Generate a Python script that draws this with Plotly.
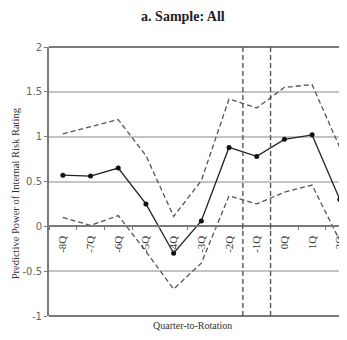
import plotly.graph_objects as go

categories = ["-8Q", "-7Q", "-6Q", "-5Q", "-4Q", "-3Q", "-2Q", "-1Q", "0Q", "1Q", "2Q"]
estimate = [0.57, 0.56, 0.65, 0.25, -0.30, 0.06, 0.88, 0.78, 0.97, 1.02, 0.30]
upper_ci = [1.03, 1.11, 1.19, 0.79, 0.11, 0.51, 1.42, 1.32, 1.55, 1.58, 0.88]
lower_ci = [0.10, 0.01, 0.12, -0.28, -0.70, -0.41, 0.34, 0.25, 0.38, 0.46, -0.16]
y_ticks = [-1, -0.5, 0, 0.5, 1, 1.5, 2]
y_ticktext = ["-1", "-0.5", "0", "0.5", "1", "1.5", "2"]
window_bounds = [6.5, 7.5]

fig = go.Figure()
for vals in (upper_ci, lower_ci):
    fig.add_trace(go.Scatter(x=categories, y=vals, mode="lines",
                             line=dict(color="#555555", width=1.3, dash="5px,3px"),
                             showlegend=False, hoverinfo="skip"))
fig.add_trace(go.Scatter(x=categories, y=estimate, mode="lines+markers",
                         line=dict(color="#222222", width=1.3),
                         marker=dict(color="#111111", size=5),
                         showlegend=False))

for xb in window_bounds:
    fig.add_shape(type="line", xref="x", yref="y", x0=xb, x1=xb, y0=-1, y1=2,
                  line=dict(color="#555555", width=1.4, dash="5px,3px"), layer="above")

# top and bottom frame lines
for yy in (0, 1):
    fig.add_shape(type="line", xref="paper", yref="paper", x0=0, x1=1, y0=yy, y1=yy,
                  line=dict(color="#7a7a7a", width=2), layer="below")

# page body has an 8px default margin, so the figure is sized to fit the window
fig.update_layout(
    width=339, height=332,
    margin=dict(l=41, r=0, t=39, b=24, autoexpand=False),
    paper_bgcolor="white", plot_bgcolor="white",
    title=dict(text="<b>a. Sample: All</b>", xref="container", x=0.516,
               yref="container", y=0.976, xanchor="center", yanchor="middle",
               font=dict(family="Liberation Serif", size=14, color="#222222")),
    xaxis=dict(type="category", range=[-0.5, 10.26], anchor="free", position=1/3,
               automargin=False,
               showline=True, linecolor="#7a7a7a", linewidth=2,
               tickson="boundaries", ticks="outside", ticklen=3, tickcolor="#7a7a7a",
               tickangle=-90, showgrid=False, zeroline=False, ticklabelstandoff=4,
               tickfont=dict(family="Liberation Serif", size=11, color="#333333")),
    yaxis=dict(range=[-1, 2], tickvals=y_ticks, ticktext=y_ticktext, automargin=False,
               showline=True, linecolor="#7a7a7a", linewidth=2,
               ticks="outside", ticklen=3, tickcolor="#7a7a7a",
               showgrid=True, gridcolor="#c4c4c4", gridwidth=1.5, zeroline=False,
               tickfont=dict(family="DejaVu Sans", size=10, color="#666666")),
)

fig.add_annotation(text="Predictive Power of Internal Risk Rating", xref="paper", yref="paper",
                   x=-0.112, y=0.455, xanchor="center", yanchor="middle",
                   textangle=-90, showarrow=False,
                   font=dict(family="Liberation Serif", size=10.5, color="#333333"))
fig.add_annotation(text="Quarter-to-Rotation", xref="paper", yref="paper",
                   x=0.483, y=-0.035, xanchor="center", yanchor="middle", showarrow=False,
                   font=dict(family="Liberation Serif", size=10, color="#333333"))

fig.write_html("out.html")
